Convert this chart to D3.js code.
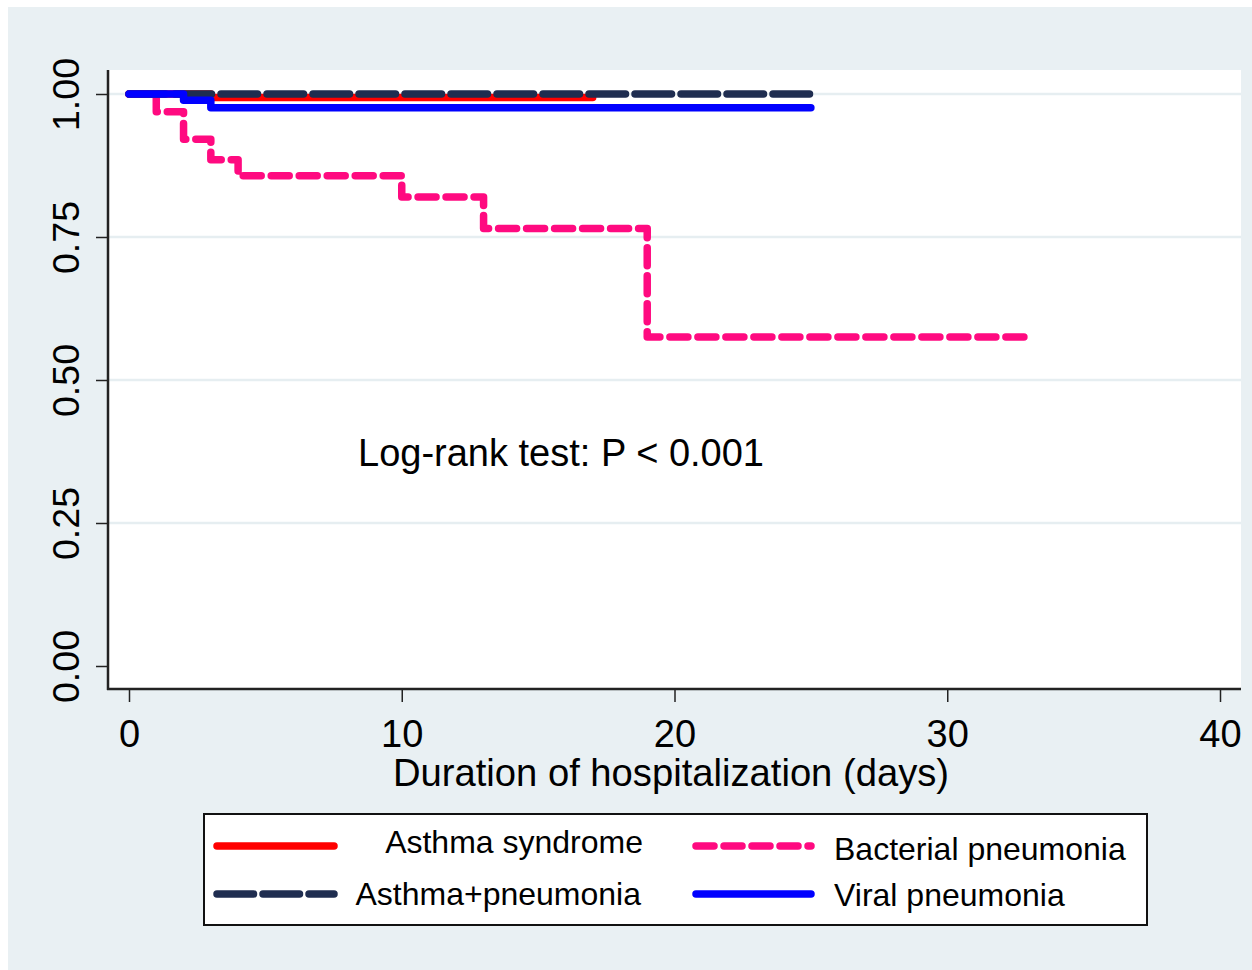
<!DOCTYPE html>
<html>
<head>
<meta charset="utf-8">
<script src="https://cdn.jsdelivr.net/npm/d3@7"></script>
<style>
  html, body { margin: 0; padding: 0; background: #ffffff; }
  svg { display: block; }
  text { font-family: "Liberation Sans", Arial, Helvetica, sans-serif; fill: #000; }
</style>
</head>
<body>
<svg id="chart" width="1252" height="970"></svg>
<script>
// ---- Data ----
const seriesNames = ["Asthma syndrome", "Bacterial pneumonia", "Asthma+pneumonia", "Viral pneumonia"];
const asthmaTimes = [0, 3, 17];
const asthmaSurv  = [1.000, 0.994, 0.994];
const bacterialTimes = [0, 1, 2, 3, 4, 10, 13, 19, 33];
const bacterialSurv  = [1.000, 0.969, 0.921, 0.885, 0.857, 0.820, 0.765, 0.575, 0.575];
const asthmaPneuTimes = [0, 25];
const asthmaPneuSurv  = [1.000, 1.000];
const viralTimes = [0, 2, 3, 25];
const viralSurv  = [1.000, 0.989, 0.976, 0.976];
const xTicks = [0, 10, 20, 30, 40];
const yTicks = [0.00, 0.25, 0.50, 0.75, 1.00];
const xTitle = "Duration of hospitalization (days)";
const annotation = "Log-rank test: P < 0.001";

// ---- Styles ----
const styles = [
  { color: "#ff0000", dash: null },
  { color: "#ff0a80", dash: "18 10" },
  { color: "#1f2d50", dash: "36.5 9.5" },
  { color: "#0000ff", dash: null }
];
const seriesData = [
  [asthmaTimes, asthmaSurv],
  [bacterialTimes, bacterialSurv],
  [asthmaPneuTimes, asthmaPneuSurv],
  [viralTimes, viralSurv]
];

const svg = d3.select("#chart");
const bg = "#e9f0f3";

// outer background
svg.append("rect").attr("x", 8).attr("y", 7).attr("width", 1244).attr("height", 963).attr("fill", bg);
// plot region
const plot = { left: 108, right: 1241, top: 70, bottom: 689 };
svg.append("rect").attr("x", plot.left).attr("y", plot.top)
  .attr("width", plot.right - plot.left).attr("height", plot.bottom - plot.top).attr("fill", "#ffffff");

const x = d3.scaleLinear().domain([0, 40]).range([129, 1220]);
const y = d3.scaleLinear().domain([0, 1]).range([666, 94]);

// gridlines (not at 0)
svg.append("g").selectAll("line").data(yTicks.filter(d => d > 0)).join("line")
  .attr("x1", plot.left).attr("x2", plot.right)
  .attr("y1", d => y(d)).attr("y2", d => y(d))
  .attr("stroke", "#e6eef1").attr("stroke-width", 2.5);

// curves
const line = d3.line().x(d => x(d[0])).y(d => y(d[1])).curve(d3.curveStepAfter);
seriesData.forEach((s, i) => {
  const pts = s[0].map((t, k) => [t, s[1][k]]);
  svg.append("path").attr("d", line(pts))
    .attr("fill", "none").attr("stroke", styles[i].color)
    .attr("stroke-width", 7.5).attr("stroke-linecap", "round").attr("stroke-linejoin", "round")
    .attr("stroke-dasharray", styles[i].dash);
});

// axes
const yAxis = d3.axisLeft(y).tickValues(yTicks).tickSize(12).tickFormat(d3.format(".2f"));
const gy = svg.append("g").attr("transform", `translate(${plot.left},0)`).call(yAxis);
gy.select(".domain").remove();
gy.selectAll(".tick line").attr("stroke", "#222").attr("stroke-width", 1.5);
gy.selectAll(".tick text").remove();
gy.selectAll(".tick").append("text")
  .attr("transform", "translate(-29,0) rotate(-90)")
  .attr("text-anchor", "middle")
  .style("font-size", "37.5px")
  .text(d => d3.format(".2f")(d));

svg.append("line").attr("x1", plot.left).attr("x2", plot.left)
  .attr("y1", plot.top).attr("y2", plot.bottom + 1)
  .attr("stroke", "#222").attr("stroke-width", 2.5);

const xAxis = d3.axisBottom(x).tickValues(xTicks).tickSize(13).tickFormat(d3.format("d"));
const gx = svg.append("g").attr("transform", `translate(0,${plot.bottom})`).call(xAxis);
gx.select(".domain").remove();
gx.selectAll(".tick line").attr("stroke", "#222").attr("stroke-width", 1.5);
gx.selectAll(".tick text").attr("y", 58).attr("dy", null)
  .style("font-size", "38px").attr("fill", "#000")
  .style("font-family", '"Liberation Sans", Arial, sans-serif');

svg.append("line").attr("x1", plot.left - 1).attr("x2", plot.right)
  .attr("y1", plot.bottom).attr("y2", plot.bottom)
  .attr("stroke", "#222").attr("stroke-width", 2.5);

// axis title
svg.append("text").attr("x", 671).attr("y", 786).attr("text-anchor", "middle")
  .style("font-size", "38.2px").text(xTitle);

// annotation
svg.append("text").attr("x", 561).attr("y", 466).attr("text-anchor", "middle")
  .style("font-size", "38px").text(annotation);

// legend
svg.append("rect").attr("x", 204).attr("y", 814).attr("width", 943).attr("height", 111)
  .attr("fill", "#ffffff").attr("stroke", "#111").attr("stroke-width", 2);
const legendItems = [
  { key: [217, 334, 846], text: [643, 853], anchor: "end" },
  { key: [696, 811, 846], text: [834, 860], anchor: "start" },
  { key: [217, 334, 894], text: [641, 905], anchor: "end" },
  { key: [696, 811, 894], text: [834, 906], anchor: "start" }
];
legendItems.forEach((it, i) => {
  svg.append("line").attr("x1", it.key[0]).attr("x2", it.key[1])
    .attr("y1", it.key[2]).attr("y2", it.key[2])
    .attr("stroke", styles[i].color).attr("stroke-width", 7.5)
    .attr("stroke-linecap", "round").attr("stroke-dasharray", styles[i].dash);
  svg.append("text").attr("x", it.text[0]).attr("y", it.text[1])
    .attr("text-anchor", it.anchor).style("font-size", "32px").text(seriesNames[i]);
});
</script>
</body>
</html>
